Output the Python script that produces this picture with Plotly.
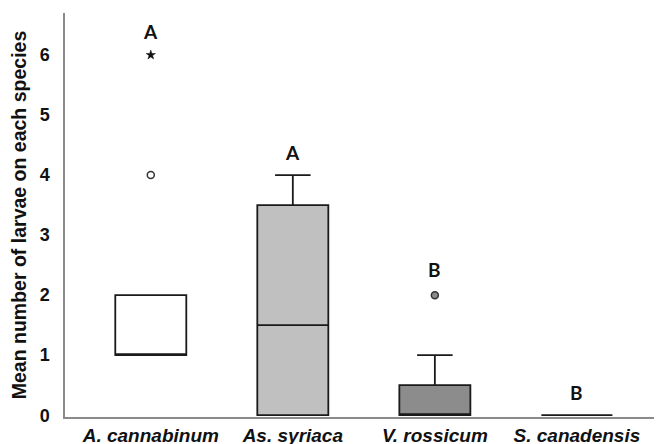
import plotly.graph_objects as go

species = ["A. cannabinum", "As. syriaca", "V. rossicum", "S. canadensis"]
lower_whisker = [1, 0, 0, 0]
q1 = [1, 0, 0, 0]
median = [1, 1.5, 0, 0]
q3 = [2, 3.5, 0.5, 0]
upper_whisker = [2, 4, 1, 0]
box_colors = ["#ffffff", "#c0c0c0", "#8c8c8c", "#ffffff"]

outlier_x = ["A. cannabinum", "V. rossicum"]
outlier_y = [4, 2]
outlier_fill = ["#ffffff", "#8c8c8c"]
extreme_x = ["A. cannabinum"]
extreme_y = [6]

letters = ["A", "A", "B", "B"]
letter_y = [6.4, 4.37, 2.42, 0.38]

fig = go.Figure()
for i, sp in enumerate(species):
    fig.add_trace(go.Box(
        x=[sp], q1=[q1[i]], median=[median[i]], q3=[q3[i]],
        lowerfence=[lower_whisker[i]], upperfence=[upper_whisker[i]],
        fillcolor=box_colors[i], line=dict(color="#1a1a1a", width=1.8),
        width=0.5, whiskerwidth=0.5, boxpoints=False, showlegend=False,
        hoverinfo="skip",
    ))

fig.add_trace(go.Scatter(
    x=outlier_x, y=outlier_y, mode="markers", showlegend=False,
    marker=dict(symbol="circle", size=7, color=outlier_fill,
                line=dict(color="#333333", width=1.5)),
))
fig.add_trace(go.Scatter(
    x=extreme_x, y=extreme_y, mode="markers", showlegend=False,
    marker=dict(symbol="star", size=7, color="#111111",
                line=dict(color="#111111", width=0.5)),
))

for sp, lt, ly in zip(species, letters, letter_y):
    fig.add_annotation(x=sp, y=ly, text="<b>%s</b>" % lt, showarrow=False,
                       font=dict(family="Lato", size=19, color="#111111"))

# page body has an 8px default margin: figure is sized/offset to compensate
fig.update_layout(
    width=654, height=436,
    margin=dict(l=57, r=5, t=5, b=26.5),
    plot_bgcolor="white", paper_bgcolor="white",
    font=dict(family="Liberation Sans", color="#111111"),
)
fig.update_xaxes(
    type="category", categoryorder="array", categoryarray=species,
    range=[-0.604, 3.564], showline=True, linecolor="#8a8a8a", linewidth=1.5,
    showgrid=False, ticks="", zeroline=False, automargin=False,
    layer="below traces",
    tickfont=dict(family="Liberation Sans", size=19, color="#111111"),
    ticktext=["<b><i>%s</i></b>" % s for s in species], tickvals=species,
)
fig.update_yaxes(
    range=[-0.03, 6.7], tickvals=[0, 1, 2, 3, 4, 5, 6],
    ticktext=["<b>%d</b>" % v for v in range(7)],
    showline=True, linecolor="#8a8a8a", linewidth=1.5,
    showgrid=False, ticks="", zeroline=False, automargin=False,
    layer="below traces", ticklabelstandoff=10,
    tickfont=dict(family="Liberation Sans", size=18, color="#111111"),
    title=dict(text="<b>Mean number of larvae on each species</b>",
               font=dict(family="Liberation Sans", size=19.5, color="#111111"),
               standoff=15),
)

fig.write_html("out.html")
